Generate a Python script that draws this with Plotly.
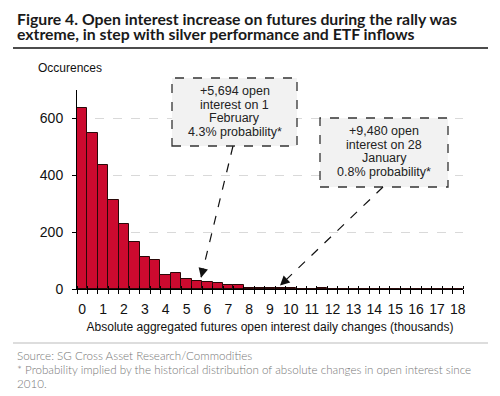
import plotly.graph_objects as go

# ---- data ----
bin_starts = [i * 0.5 for i in range(37)]  # 0, 0.5, ..., 18 (thousands)
occurrences = [638, 550, 437, 314, 229, 166, 112, 102, 50, 55,
               35, 29, 25, 20, 13, 13, 5, 3, 2, 2,
               2, 1, 1, 2, 1, 1, 1, 0, 0, 0,
               0, 0, 0, 0, 1, 0, 0]
x_tick_vals = list(range(0, 19))
x_tick_text = [str(v) for v in x_tick_vals]
y_tick_vals = [0, 200, 400, 600]

ann1_x, ann1_y = 5.694, 40
ann2_x, ann2_y = 9.48, 12
ann1_lines = ["+5,694 open", "interest on 1", "February", "4.3% probability*"]
ann2_lines = ["+9,480 open", "interest on 28", "January", "0.8% probability*"]

title_l1 = "Figure 4. Open interest increase on futures during the rally was"
title_l2 = "extreme, in step with silver performance and ETF inflows"
foot_l1 = "Source: SG Cross Asset Research/Commodities"
foot_l2 = "* Probability implied by the historical distribution of absolute changes in open interest since"
foot_l3 = "2010."

W, H = 500, 396
L, R, T, B = 77, 37, 90, 107
PW, PH = W - L - R, H - T - B

def px(x):
    return (x - L) / PW

def py(y):
    return (H - B - y) / PH

AX_FONT = "Liberation Sans, Arial, sans-serif"

fig = go.Figure()
fig.add_trace(go.Bar(
    x=bin_starts, y=occurrences, width=0.5,
    marker=dict(color="#CC0A2F", line=dict(color="#2a0808", width=1)),
    hoverinfo="x+y", showlegend=False,
))
fig.add_trace(go.Scatter(x=[bin_starts[0]], y=[0], xaxis="x2", mode="markers",
                         marker=dict(opacity=0), showlegend=False, hoverinfo="skip"))

fig.update_layout(
    width=W, height=H,
    margin=dict(l=L, r=R, t=T, b=B),
    paper_bgcolor="white", plot_bgcolor="white",
    bargap=0,
    font=dict(family=AX_FONT, color="#111111"),
    xaxis=dict(
        range=[-0.25, 18.25], tickmode="array", tickvals=x_tick_vals, ticktext=x_tick_text,
        ticks="outside", ticklen=0, tickfont=dict(size=14, family=AX_FONT, color="#111"),
        showline=True, linecolor="black", linewidth=1, showgrid=False, zeroline=False,
        minor=dict(tick0=-0.25, dtick=0.5, ticks="outside", ticklen=4, tickcolor="black", tickwidth=1),
        ticklabelstandoff=7,
        title=dict(text="Absolute aggregated futures open interest daily changes (thousands)",
                   font=dict(size=12, family=AX_FONT, color="#111"), standoff=6),
    ),
    xaxis2=dict(
        range=[-0.25, 18.25], overlaying="x", side="bottom", showticklabels=False,
        showline=False, showgrid=False, zeroline=False, ticks="",
        minor=dict(tick0=-0.25, dtick=0.5, ticks="inside", ticklen=3, tickcolor="black", tickwidth=1),
    ),
    yaxis=dict(
        range=[0, 700], tickmode="array", tickvals=y_tick_vals,
        ticks="outside", ticklen=4, tickcolor="black",
        tickfont=dict(size=14, family=AX_FONT, color="#111"),
        showline=True, linecolor="black", linewidth=1,
        showgrid=True, gridcolor="#d9d9d9", griddash="dash", gridwidth=1, zeroline=False,
        ticklabelstandoff=6,
    ),
)

shapes = []
shapes.append(dict(type="rect", xref="paper", yref="paper",
                   x0=px(172), x1=px(297), y0=py(146), y1=py(78),
                   line=dict(color="#333", width=1.3, dash="dash"), fillcolor="#f2f2f2", layer="above"))
shapes.append(dict(type="rect", xref="paper", yref="paper",
                   x0=px(320), x1=px(448), y0=py(187), y1=py(118),
                   line=dict(color="#333", width=1.3, dash="dash"), fillcolor="#f2f2f2", layer="above"))
shapes.append(dict(type="line", xref="paper", yref="paper",
                   x0=px(13), x1=px(488), y0=py(48), y1=py(48), line=dict(color="#111", width=1.6)))
shapes.append(dict(type="line", xref="paper", yref="paper",
                   x0=px(13), x1=px(488), y0=py(343), y1=py(343), line=dict(color="#bbbbbb", width=1)))
fig.update_layout(shapes=shapes)

def data_to_px(xv, yv):
    return (L + (xv + 0.25) / 18.5 * PW, H - B - yv / 700 * PH)

for (tx, ty), (bx, by) in [((ann1_x, ann1_y), (233, 146)), ((ann2_x, ann2_y), (383, 187))]:
    hx, hy = data_to_px(tx, ty)
    fig.add_shape(type="line", xref="paper", yref="paper",
                  x0=px(bx), y0=py(by), x1=px(hx), y1=py(hy),
                  line=dict(color="#111", width=1.2, dash="dash"))
    dx, dy = bx - hx, by - hy
    n = (dx * dx + dy * dy) ** 0.5
    fig.add_annotation(x=tx, y=ty, xref="x", yref="y", text="", showarrow=True,
                       arrowhead=2, arrowsize=1.6, arrowwidth=1.2, arrowcolor="#111",
                       ax=dx / n * 8, ay=dy / n * 8)

AFONT = dict(size=12.5, family=AX_FONT, color="#222")
for lines, cx, top in [(ann1_lines, 234.5, 91), (ann2_lines, 384, 131)]:
    for i, t in enumerate(lines):
        fig.add_annotation(x=px(cx), y=py(top + i * 13.7), xref="paper", yref="paper", text=t,
                           showarrow=False, xanchor="center", yanchor="middle", font=AFONT)

fig.add_annotation(x=px(36), y=py(68), xref="paper", yref="paper", text="Occurences",
                   showarrow=False, xanchor="left", yanchor="middle",
                   font=dict(size=12, family=AX_FONT, color="#111"))

TFONT = dict(size=15.8, family="Lato, sans-serif", color="#1a1a1a", weight="bold")
fig.add_annotation(x=px(15), y=py(18), xref="paper", yref="paper", text=title_l1,
                   showarrow=False, xanchor="left", yanchor="middle", font=TFONT)
fig.add_annotation(x=px(15), y=py(33.5), xref="paper", yref="paper", text=title_l2,
                   showarrow=False, xanchor="left", yanchor="middle", font=TFONT)

FFONT = dict(size=11.6, family="Lato, sans-serif", color="#777777", weight=300)
for txt, yy in [(foot_l1, 355), (foot_l2, 369), (foot_l3, 383)]:
    fig.add_annotation(x=px(15), y=py(yy), xref="paper", yref="paper", text=txt,
                       showarrow=False, xanchor="left", yanchor="middle", font=FFONT)

fig.write_html("out.html", config={"displayModeBar": False},
               post_script="document.body.style.margin='0px';")
